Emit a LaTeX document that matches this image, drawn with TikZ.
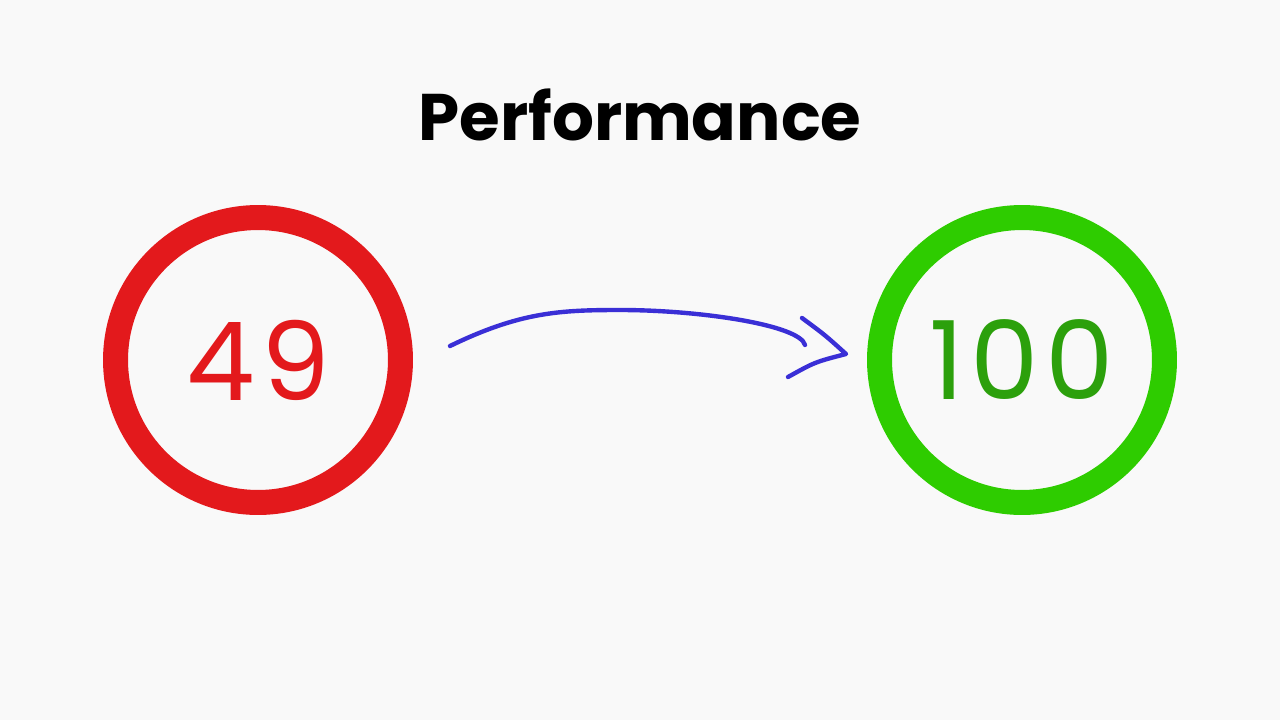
\documentclass[tikz,border=0pt]{standalone}
\usepackage{fontspec}
\setmainfont{Poppins}
\usetikzlibrary{positioning}
\definecolor{bgc}{HTML}{F9F9F9}
\definecolor{badred}{HTML}{E3191C}
\definecolor{goodring}{HTML}{2ECC00}
\definecolor{goodtext}{HTML}{2CA00C}
\definecolor{penblue}{HTML}{3A2FD6}
\begin{document}
\begin{tikzpicture}[x=0.02cm,y=-0.02cm,
    score/.style={circle,draw,line width=0.5cm,minimum size=5.7cm,inner sep=0pt,
      font=\fontsize{62}{62}\selectfont\addfontfeatures{LetterSpace=6}},
    pen/.style={penblue,line width=2.5pt,line cap=round,line join=round}]
  \fill[bgc] (0,0) rectangle (1280,720);
  \node[font=\bfseries\fontsize{37.5}{37.5}\selectfont] (title) at (640,115) {Performance};
  \node[score,draw=badred,text=badred] (old) at (258,360) {49};
  \node[score,draw=goodring,text=goodtext] (new) at (1022,360) {100};
  % hand drawn arrow
  \coordinate (start) at (450,346);
  \coordinate (tip) at (846,354);
  \draw[pen] (start) .. controls (520,312) and (560,310) .. (620,310)
    .. controls (700,310) and (800,325) .. (805,345);
  \draw[pen] (802,318) .. controls (825,335) .. (tip)
    .. controls (815,362) .. (788,377);
\end{tikzpicture}
\end{document}
